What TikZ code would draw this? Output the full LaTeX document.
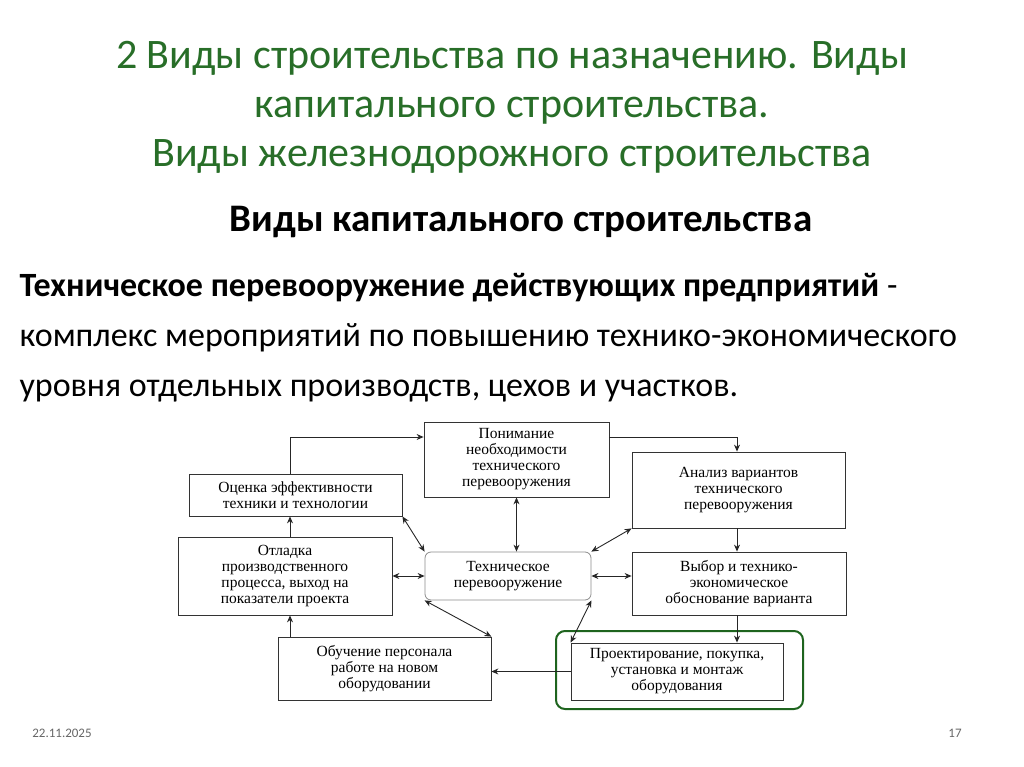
\documentclass[tikz,border=0pt]{standalone}
\usepackage{fontspec}
\setmainfont{Carlito}
\newfontfamily\serifd{Liberation Serif}
\usetikzlibrary{arrows.meta}
\definecolor{tgreen}{RGB}{40,110,40}
\definecolor{bgreen}{RGB}{30,100,30}
\begin{document}
\begin{tikzpicture}[x=1pt,y=-1pt,
 bx/.style={draw=black!80,line width=0.8pt,fill=white,align=center,font=\serifd\fontsize{15.5}{16}\selectfont,inner sep=1pt},
 ar/.style={-{Stealth[length=7pt,width=6pt]},line width=0.9pt,black!85},
 dar/.style={{Stealth[length=7pt,width=6pt]}-{Stealth[length=7pt,width=6pt]},line width=0.9pt,black!85}]
\useasboundingbox (0,0) rectangle (1024,767);
\node[text=tgreen,align=center,font=\fontsize{42}{49}\selectfont] (t) at (512,107) {2 Виды строительства по назначению. Виды\\капитального строительства.\\Виды железнодорожного строительства};
\node[font=\bfseries\fontsize{39}{40}\selectfont] (st) at (521,222) {Виды капитального строительства};
\node[anchor=west,align=left,font=\fontsize{34}{50}\selectfont] (body) at (16,338) {\textbf{Техническое перевооружение действующих предприятий} -\\комплекс мероприятий по повышению технико-экономического\\уровня отдельных производств, цехов и участков.};
\node[text=black!60,font=\fontsize{13}{14}\selectfont] (d) at (62,733) {22.11.2025};
\node[text=black!60,font=\fontsize{13}{14}\selectfont] (n) at (955,733) {17};
% boxes
\node[bx,minimum width=185,minimum height=75] (p) at (516.5,459.5) {Понимание\\необходимости\\технического\\перевооружения};
\node[bx,minimum width=213,minimum height=42] (o) at (295.5,495) {Оценка эффективности\\техники и технологии};
\node[bx,minimum width=213,minimum height=76] (a) at (738.5,490) {Анализ вариантов\\технического\\перевооружения};
\node[bx,minimum width=214,minimum height=78] (ot) at (285,576) {Отладка\\производственного\\процесса, выход на\\показатели проекта};
\node[bx,rounded corners=6pt,draw=black!45,minimum width=166,minimum height=48] (c) at (508,576) {Техническое\\перевооружение};
\node[bx,minimum width=214,minimum height=63] (v) at (739,583.5) {Выбор и технико-\\экономическое\\обоснование варианта};
\node[bx,minimum width=213,minimum height=63] (ob) at (384.5,668.5) {Обучение персонала\\работе на новом\\оборудовании};
\node[bx,minimum width=212,minimum height=57] (pr) at (677,671.5) {Проектирование, покупка,\\установка и монтаж\\оборудования};
\node[draw=bgreen,line width=2pt,rounded corners=9pt,minimum width=247,minimum height=78] (g) at (679.5,670) {};
% flow
\draw[ar] (o.north -| 290,0) |- (p.west |- 0,437);
\draw[ar] (p.east |- 0,437) -| (a.north -| 737,0);
\draw[ar] (a.south -| 737,0) -- (v.north -| 737,0);
\draw[ar] (v.south -| 737,0) -- (pr.north -| 737,0);
\draw[ar] (pr.west) -- (ob.east |- pr.west);
\draw[ar] (ob.north -| 290,0) -- (ot.south -| 290,0);
\draw[ar] (ot.north -| 290,0) -- (o.south -| 290,0);
% double
\draw[dar] (p.south) -- (c.north -| p.south);
\draw[dar] (o.south east) -- (c.north west);
\draw[dar] (a.south west) -- (c.north east);
\draw[dar] (ot.east) -- (c.west);
\draw[dar] (c.east) -- (v.west |- c.east);
\draw[dar] (c.south west) -- (ob.north east);
\draw[dar] (c.south east) -- (pr.north west);
\end{tikzpicture}
\end{document}
